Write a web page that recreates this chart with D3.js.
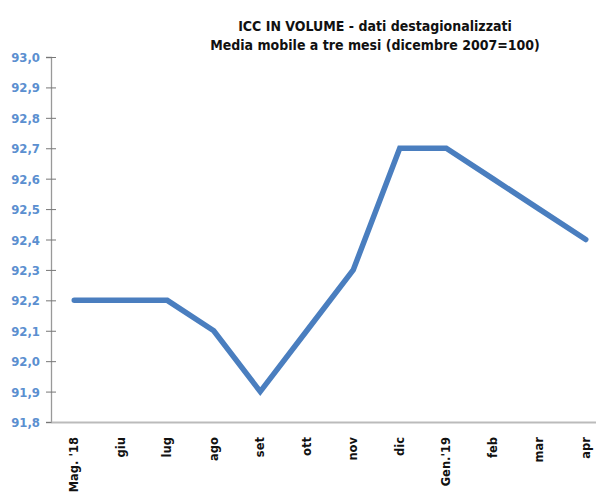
<!DOCTYPE html>
<html>
<head>
<meta charset="utf-8">
<script src="https://cdn.jsdelivr.net/npm/d3@7"></script>
<style>
	body { margin: 0; background: #fff; }
	.title { font-family: 'DejaVu Sans Condensed', 'DejaVu Sans', sans-serif; font-weight: bold; font-size: 14px; fill: #111; }
	.ylab { font-family: 'DejaVu Sans Condensed', 'DejaVu Sans', sans-serif; font-weight: bold; font-size: 13px; fill: #5b8fd0; }
	.xlab { font-family: 'DejaVu Sans', sans-serif; font-weight: bold; font-size: 11.5px; fill: #111; }
</style>
</head>
<body>
<div id="chart"></div>
<script>
const months = ["Mag. '18", 'giu', 'lug', 'ago', 'set', 'ott', 'nov', 'dic', "Gen.'19", 'feb', 'mar', 'apr'];
const values = [92.2, 92.2, 92.2, 92.1, 91.9, 92.1, 92.3, 92.7, 92.7, 92.6, 92.5, 92.4];
const yTicks = [91.8, 91.9, 92.0, 92.1, 92.2, 92.3, 92.4, 92.5, 92.6, 92.7, 92.8, 92.9, 93.0];
const titleLines = ['ICC IN VOLUME - dati destagionalizzati', 'Media mobile a tre mesi (dicembre 2007=100)'];

const W = 596, H = 498;
const mLeft = 51, mTop = 57, plotBottom = 422;

const svg = d3.select('#chart').append('svg')
	.attr('width', W)
	.attr('height', H);

// scale
const x = d3.scaleBand().domain(months).range([mLeft, mLeft + 12 * 46.5]);
const y = d3.scaleLinear().domain([91.8, 93.0]).range([plotBottom, mTop]);

// title
svg.append('g').selectAll('text')
	.data(titleLines)
	.enter()
	.append('text')
	.classed('title', true)
	.attr('x', 375)
	.attr('y', (d, i) => 31 + i * 19)
	.attr('text-anchor', 'middle')
	.text(d => d);

// y axis
const fmt = d => d3.format('.1f')(d).replace('.', ',');
const yAxis = d3.axisLeft(y).tickValues(yTicks).tickFormat(fmt).tickSize(5);
svg.append('g')
	.attr('transform', `translate(${mLeft},0)`)
	.call(g => {
		g.call(yAxis);
		g.attr('font-family', null).attr('font-size', null);
		g.select('.domain').attr('stroke', '#999').attr('stroke-width', 1.3);
		g.selectAll('.tick line').attr('x1', 5).attr('x2', -5).attr('stroke', '#777');
		g.selectAll('.tick text').classed('ylab', true).attr('fill', null).attr('x', -11).attr('dy', '0.35em');
	});

// x axis
const xAxis = d3.axisBottom(x).tickSize(0);
svg.append('g')
	.attr('transform', `translate(0,${plotBottom})`)
	.call(g => {
		g.call(xAxis);
		g.attr('font-family', null).attr('font-size', null);
		g.select('.domain').attr('stroke', '#bbb').attr('stroke-width', 2);
		g.selectAll('.tick text')
			.classed('xlab', true)
			.attr('fill', null)
			.attr('transform', 'rotate(-90)')
			.attr('text-anchor', 'end')
			.attr('x', -15)
			.attr('y', 0)
			.attr('dy', '0.35em');
	});

// line
const line = d3.line()
	.x((d, i) => x(months[i]) + x.bandwidth() / 2)
	.y(d => y(d));

svg.append('path')
	.datum(values)
	.attr('fill', 'none')
	.attr('stroke', '#4a7ebf')
	.attr('stroke-width', 5.5)
	.attr('stroke-linejoin', 'miter')
	.attr('stroke-linecap', 'round')
	.attr('d', line);
</script>
</body>
</html>
